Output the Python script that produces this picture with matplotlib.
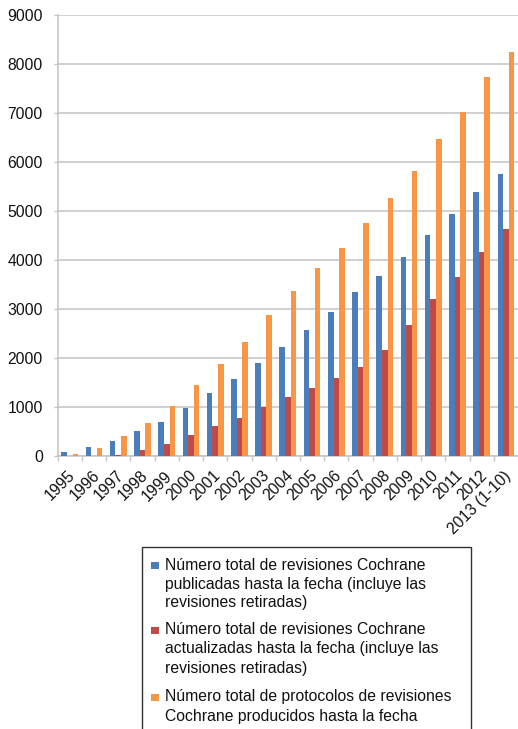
import matplotlib
matplotlib.use("Agg")
import matplotlib.pyplot as plt
import matplotlib.transforms as mtransforms
import numpy as np
from matplotlib.patches import Rectangle

categories = ["1995", "1996", "1997", "1998", "1999", "2000", "2001", "2002", "2003",
              "2004", "2005", "2006", "2007", "2008", "2009", "2010", "2011", "2012",
              "2013 (1-10)"]
publicadas = [75, 175, 300, 505, 700, 970, 1280, 1570, 1890,
              2215, 2570, 2945, 3350, 3670, 4065, 4520, 4930, 5390, 5765]
actualizadas = [0, 5, 30, 120, 250, 420, 610, 780, 1000,
                1195, 1380, 1585, 1820, 2160, 2670, 3195, 3660, 4170, 4625]
protocolos = [45, 170, 400, 680, 1020, 1440, 1870, 2320, 2875,
              3365, 3830, 4250, 4760, 5270, 5815, 6460, 7025, 7740, 8250]
series_labels = [
    "Número total de revisiones Cochrane\npublicadas hasta la fecha (incluye las\nrevisiones retiradas)",
    "Número total de revisiones Cochrane\nactualizadas hasta la fecha (incluye las\nrevisiones retiradas)",
    "Número total de protocolos de revisiones\nCochrane producidos hasta la fecha",
]
colors = ["#4A7EBB", "#BE4B48", "#F79646"]
yticks = [0, 1000, 2000, 3000, 4000, 5000, 6000, 7000, 8000, 9000]

plt.rcParams['font.family'] = ['Liberation Sans', 'DejaVu Sans']
W, H = 518, 729
fig = plt.figure(figsize=(W / 100, H / 100), dpi=100)
ax = fig.add_axes([57.7 / W, 1 - 456 / H, 460.3 / W, 441 / H])

x = np.arange(len(categories))
bw = 0.23
for i, (vals, c) in enumerate(zip([publicadas, actualizadas, protocolos], colors)):
    ax.bar(x + (i - 1) * bw, vals, width=bw, color=c, edgecolor='none', zorder=3)

ax.set_xlim(-0.5, len(categories) - 0.5)
ax.set_ylim(0, 9000)
ax.set_yticks(yticks)
ax.set_yticklabels([str(v) for v in yticks], fontsize=11.3, color='#111111')
ax.yaxis.grid(True, color='#c4c4c4', linewidth=1.1, zorder=0)
ax.tick_params(axis='y', length=3.2, width=1.0, color='#c4c4c4', pad=7.4)

ax.set_xticks(x)
ax.set_xticklabels(categories, rotation=45, ha='right', va='center',
                   rotation_mode='anchor', fontsize=11.3, color='#111111')
ax.tick_params(axis='x', which='major', length=0, pad=12.5)
shift = mtransforms.ScaledTranslation(3 / 100, 0, fig.dpi_scale_trans)
for lbl in ax.get_xticklabels():
    lbl.set_transform(lbl.get_transform() + shift)
ax.set_xticks(np.arange(-0.5, len(categories), 1.0), minor=True)
ax.tick_params(axis='x', which='minor', length=3.5, width=1.0, color='#c4c4c4')

for s in ['top', 'right']:
    ax.spines[s].set_visible(False)
for s in ['left', 'bottom']:
    ax.spines[s].set_color('#c4c4c4')
    ax.spines[s].set_linewidth(1.1)
ax.set_axisbelow(True)

# Legend box (extends below the figure edge as in the reference)
box = Rectangle((142 / W, 1 - 800 / H), (471 - 142) / W, (800 - 547) / H,
                transform=fig.transFigure, facecolor='white', edgecolor='#333333',
                linewidth=1.0, clip_on=False)
fig.add_artist(box)
item_tops = [565, 630, 697]
line_gap = 19
for lab, c, y0 in zip(series_labels, colors, item_tops):
    fig.add_artist(Rectangle((150.5 / W, 1 - (y0 + 3.5) / H), 8 / W, 7 / H,
                             transform=fig.transFigure, facecolor=c, edgecolor='none'))
    for k, line in enumerate(lab.split("\n")):
        fig.text(165 / W, 1 - (y0 + k * line_gap) / H, line, fontsize=11.3,
                 color='#111111', va='center', ha='left')

fig.savefig("out.png", dpi=100)
